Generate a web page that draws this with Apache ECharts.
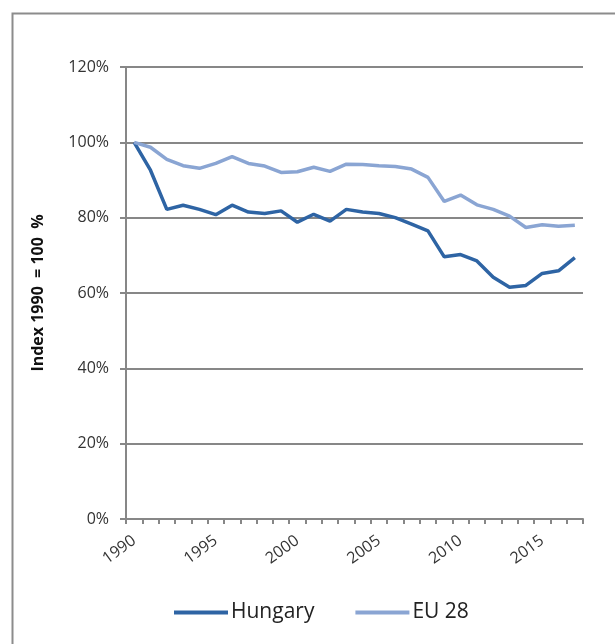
<!DOCTYPE html>
<html>
<head>
<meta charset="utf-8">
<script src="https://cdn.jsdelivr.net/npm/echarts@6/dist/echarts.min.js"></script>
<style>
  html, body { margin:0; padding:0; background:#fff; }
  #main { width:615px; height:644px; }
</style>
</head>
<body>
<div id="main"></div>
<script>
  // years 1990..2017
  var years = [];
  for (var y = 1990; y <= 2017; y++) years.push(String(y));

  var hungary = [100, 92.6, 82.2, 83.3, 82.2, 80.8, 83.3, 81.5, 81.1, 81.8,
                 78.8, 80.9, 79.1, 82.2, 81.5, 81.1, 80.0, 78.3, 76.5, 69.6,
                 70.2, 68.5, 64.2, 61.5, 62.0, 65.2, 65.9, 69.4];
  var eu28 = [100, 98.7, 95.5, 93.8, 93.1, 94.4, 96.2, 94.4, 93.7, 92.0,
              92.2, 93.4, 92.3, 94.2, 94.1, 93.8, 93.6, 92.9, 90.7, 84.3,
              86.0, 83.4, 82.2, 80.4, 77.4, 78.1, 77.7, 78.0];

  var myChart = echarts.init(document.getElementById('main'));
  myChart.setOption({
    backgroundColor: '#fff',
    animation: false,
    graphic: [{
      type: 'rect',
      left: 10, top: 11,
      shape: { width: 640, height: 660 },
      style: { fill: 'none', stroke: '#8c8c8c', lineWidth: 2 },
      silent: true
    }],
    grid: { left: 126, right: 32, top: 67, bottom: 125 },
    legend: {
      bottom: 16,
      left: 169,
      itemGap: 41,
      itemWidth: 54,
      itemHeight: 4,
      icon: 'rect',
      textStyle: { fontFamily: 'Open Sans', fontSize: 21, color: '#222', padding: [0, 0, 0, -2] },
      data: ['Hungary', 'EU 28']
    },
    xAxis: {
      type: 'category',
      data: years,
      boundaryGap: true,
      axisLine: { lineStyle: { color: '#878787', width: 2 } },
      axisTick: { show: true, length: 5, lineStyle: { color: '#878787', width: 2 }, interval: 0 },
      axisLabel: {
        interval: 4,
        rotate: 36,
        margin: 20,
        fontFamily: 'Open Sans',
        fontSize: 16,
        color: '#333'
      },
      splitLine: { show: false }
    },
    yAxis: {
      type: 'value',
      min: 0, max: 120, interval: 20,
      name: 'Index 1990  = 100  %',
      nameLocation: 'middle',
      nameGap: 80,
      nameTextStyle: { fontFamily: 'Open Sans', fontSize: 16, fontWeight: 'bold', color: '#111' },
      axisLine: { show: true, lineStyle: { color: '#878787', width: 2 } },
      axisTick: { show: true, length: 6, lineStyle: { color: '#878787', width: 2 } },
      axisLabel: {
        formatter: '{value}%',
        margin: 17,
        fontFamily: 'Open Sans',
        fontSize: 16,
        color: '#333'
      },
      splitLine: { show: true, lineStyle: { color: '#878787', width: 2 } }
    },
    series: [
      {
        name: 'Hungary',
        type: 'line',
        data: hungary,
        symbol: 'none',
        itemStyle: { color: '#2e64a4' },
        lineStyle: { color: '#2e64a4', width: 3.5 }
      },
      {
        name: 'EU 28',
        type: 'line',
        data: eu28,
        symbol: 'none',
        itemStyle: { color: '#8aa5d3' },
        lineStyle: { color: '#8aa5d3', width: 3.5 }
      }
    ]
  });
</script>
</body>
</html>
